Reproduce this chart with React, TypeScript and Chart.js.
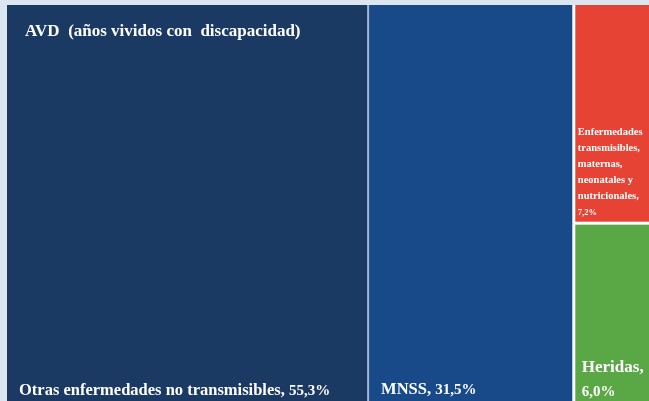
import React, { useEffect, useRef } from "react";
import { Chart, registerables } from "chart.js";

Chart.register(...registerables);

// ---- data ----
const groupTitle = "AVD  (años vividos con  discapacidad)";
const categories = [
  "Otras enfermedades no transmisibles",
  "MNSS",
  "Enfermedades transmisibles, maternas, neonatales y nutricionales",
  "Heridas",
];
const shares = [55.3, 31.5, 7.2, 6.0];
const valueLabels = ["55,3%", "31,5%", "7,2%", "6,0%"];
// treemap grouping of the cells into columns (indices into categories)
const columns = [[0], [1], [2, 3]];

// ---- styles ----
const cellColors = ["#1b3a63", "#184a8a", "#e64334", "#5aa746"];
const edgeStyles = [
  null,
  { color: "rgba(170,188,214,0.95)", width: 2 },
  { color: "#ffffff", width: 3 },
  { color: "#ffffff", width: 3 },
];
const labelStyles = [
  { name: 16.5, value: 15, lh: 24, padX: 12, padRight: 4, padBottom: 10 },
  { name: 16.5, value: 15, lh: 24, padX: 13, padRight: 4, padBottom: 11 },
  { name: 10.5, value: 8.5, lh: 16, padX: 4, padRight: 10, padBottom: 8 },
  { name: 17, value: 15, lh: 24, padX: 8, padRight: 4, padBottom: 9 },
];
const FONT = '"Liberation Serif", "DejaVu Serif", serif';

function drawLabel(ctx: CanvasRenderingContext2D, i: number, left: number, right: number, bottom: number) {
  const st = labelStyles[i];
  const nameFont = `bold ${st.name}px ${FONT}`;
  const valFont = `bold ${st.value}px ${FONT}`;
  const words = categories[i].split(" ");
  const tokens: { t: string; f: string; w: number }[] = words.map((w, k) => ({
    t: k === words.length - 1 ? w + "," : w,
    f: nameFont,
    w: 0,
  }));
  tokens.push({ t: valueLabels[i], f: valFont, w: 0 });
  const maxW = right - left - st.padX - st.padRight;
  ctx.font = nameFont;
  const sp = ctx.measureText(" ").width;
  const lines: (typeof tokens)[] = [[]];
  let lw = 0;
  tokens.forEach((tok) => {
    ctx.font = tok.f;
    tok.w = ctx.measureText(tok.t).width;
    const cur = lines[lines.length - 1];
    const add = cur.length ? sp + tok.w : tok.w;
    if (cur.length && lw + add > maxW) {
      lines.push([tok]);
      lw = tok.w;
    } else {
      cur.push(tok);
      lw += add;
    }
  });
  let base = bottom - st.padBottom - (lines.length - 1) * st.lh;
  ctx.fillStyle = "#ffffff";
  ctx.textBaseline = "alphabetic";
  ctx.textAlign = "left";
  lines.forEach((line) => {
    let tx = left + st.padX;
    line.forEach((tok, k) => {
      if (k) tx += sp;
      ctx.font = tok.f;
      ctx.fillText(tok.t, tx, base);
      tx += tok.w;
    });
    base += st.lh;
  });
}

const treemapPlugin = {
  id: "treemapCells",
  afterDatasetsDraw(chart: any) {
    const ctx: CanvasRenderingContext2D = chart.ctx;
    const xs = chart.scales.x;
    const ys = chart.scales.y;
    const total = shares.reduce((a, b) => a + b, 0);
    const cells: { i: number; x0: number; x1: number; y0: number; y1: number }[] = [];
    let cx = 0;
    columns.forEach((col) => {
      const colSum = col.reduce((a, i) => a + shares[i], 0);
      const w = (colSum / total) * 100;
      let cy = 0;
      col.forEach((i) => {
        const h = (shares[i] / colSum) * 100;
        cells.push({ i, x0: cx, x1: cx + w, y0: cy, y1: cy + h });
        cy += h;
      });
      cx += w;
    });
    ctx.save();
    const px = cells.map((c) => ({
      i: c.i,
      left: xs.getPixelForValue(c.x0),
      right: xs.getPixelForValue(c.x1),
      top: ys.getPixelForValue(c.y0),
      bottom: ys.getPixelForValue(c.y1),
      x0: c.x0,
      y0: c.y0,
    }));
    px.forEach((c) => {
      ctx.fillStyle = cellColors[c.i];
      ctx.fillRect(c.left, c.top, c.right - c.left, c.bottom - c.top);
    });
    px.forEach((c) => {
      const e = edgeStyles[c.i];
      if (!e) return;
      ctx.fillStyle = e.color;
      if (c.x0 > 0.001) ctx.fillRect(c.left - e.width / 2, c.top, e.width, c.bottom - c.top);
      if (c.y0 > 0.001) ctx.fillRect(c.left, c.top - e.width / 2, c.right - c.left, e.width);
    });
    px.forEach((c) => drawLabel(ctx, c.i, c.left, c.right, c.bottom));
    // group title
    const first = px[0];
    ctx.font = `bold 17px ${FONT}`;
    ctx.fillStyle = "#ffffff";
    ctx.fillText(groupTitle, first.left + 18, first.top + 31);
    ctx.restore();
  },
};

export default function App() {
  const ref = useRef<HTMLCanvasElement | null>(null);
  useEffect(() => {
    if (!ref.current) return;
    const chart = new Chart(ref.current, {
      type: "scatter",
      data: { datasets: [{ data: [] }] },
      options: {
        animation: false,
        responsive: false,
        events: [],
        layout: { padding: 0 },
        plugins: { legend: { display: false }, tooltip: { enabled: false } },
        scales: {
          x: { type: "linear", min: 0, max: 100, display: false },
          y: { type: "linear", min: 0, max: 100, reverse: true, display: false },
        },
      },
      plugins: [treemapPlugin],
    } as any);
    return () => chart.destroy();
  }, []);
  return (
    <div
      style={{
        position: "fixed",
        left: 0,
        top: 0,
        width: "100vw",
        height: "100vh",
        overflow: "hidden",
        background: "#dce6f1",
      }}
    >
      <div style={{ position: "absolute", left: 7, top: 5, width: 653, height: 400 }}>
        <canvas ref={ref} width={653} height={400} style={{ display: "block" }} />
      </div>
    </div>
  );
}
